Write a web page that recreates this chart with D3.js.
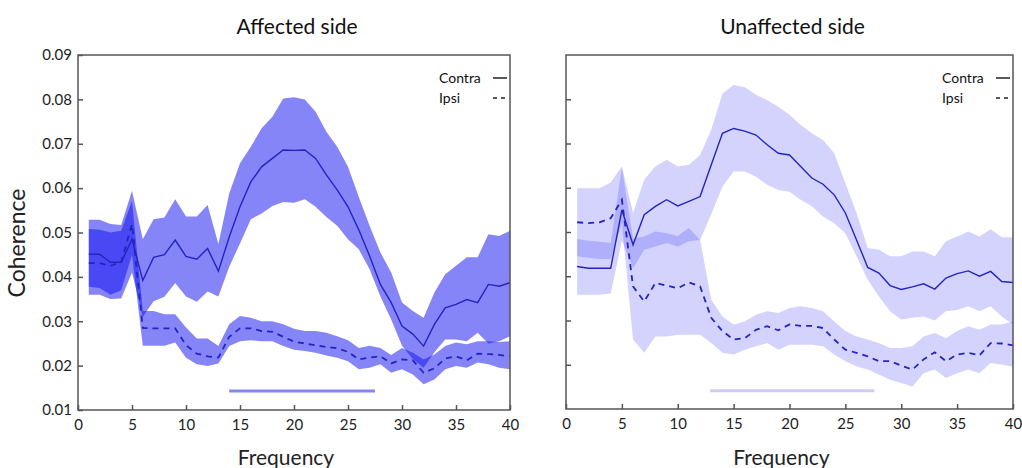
<!DOCTYPE html>
<meta charset="utf-8" />
<script src="https://d3js.org/d3.v7.min.js"></script>
<body style="margin:0;background:#fff">
<svg id="chart" width="1022" height="468" style="display:block"></svg>
<script>
/* DATA ------------------------------------------------------------------ */
const freq = d3.range(1, 41);

// affected side
const affContra   = [0.0451,0.0451,0.0433,0.0433,0.0485,0.0392,0.0444,0.045,0.0483,0.0446,0.044,0.0464,0.0413,0.049,0.0558,0.0614,0.0648,0.0667,0.0686,0.0685,0.0686,0.0667,0.063,0.0596,0.0558,0.0506,0.0447,0.0383,0.0342,0.0289,0.0271,0.0244,0.0293,0.033,0.0338,0.0349,0.0342,0.0383,0.0379,0.0387];
const affContraHi = [0.0529,0.0529,0.0519,0.0517,0.0594,0.0485,0.053,0.0534,0.0575,0.0536,0.0536,0.0562,0.0474,0.0588,0.0656,0.0693,0.0735,0.0761,0.0802,0.0805,0.08,0.0772,0.0727,0.0693,0.0648,0.058,0.0515,0.0455,0.041,0.0342,0.0323,0.0308,0.0365,0.0406,0.0425,0.0444,0.0444,0.0496,0.0492,0.0504];
const affContraLo = [0.036,0.036,0.035,0.0351,0.041,0.031,0.0345,0.0355,0.0386,0.0356,0.0344,0.0367,0.0356,0.0423,0.0475,0.053,0.0543,0.056,0.0569,0.0567,0.0575,0.0558,0.0535,0.0515,0.0485,0.0462,0.0417,0.0356,0.0304,0.0245,0.0215,0.0195,0.023,0.0259,0.0259,0.0255,0.0274,0.025,0.0255,0.0266];
const affIpsi     = [0.0431,0.0431,0.0425,0.0433,0.0519,0.0285,0.0284,0.0284,0.0284,0.0246,0.0227,0.0221,0.0218,0.0265,0.0284,0.0284,0.0278,0.0276,0.0265,0.0254,0.025,0.0246,0.0242,0.0239,0.0231,0.0214,0.0218,0.0221,0.0205,0.0214,0.0212,0.0184,0.0194,0.0216,0.0221,0.0212,0.0227,0.0226,0.0224,0.0221];
const affIpsiHi   = [0.0508,0.0506,0.05,0.0504,0.0571,0.0323,0.0323,0.0316,0.0316,0.0286,0.0261,0.0261,0.0244,0.0293,0.0312,0.0308,0.03,0.03,0.0293,0.0283,0.0278,0.0278,0.0274,0.0266,0.0257,0.024,0.0245,0.024,0.0224,0.024,0.0229,0.0214,0.0225,0.0244,0.0252,0.0248,0.0255,0.0255,0.0253,0.0255];
const affIpsiLo   = [0.0378,0.0375,0.036,0.037,0.045,0.0245,0.0245,0.0245,0.0252,0.0218,0.0203,0.0199,0.0205,0.0244,0.0255,0.0257,0.0255,0.0255,0.0244,0.0236,0.0233,0.0229,0.0223,0.0218,0.021,0.0192,0.0195,0.0203,0.0184,0.0192,0.018,0.0158,0.0169,0.0192,0.0199,0.0195,0.0207,0.0203,0.0195,0.0192];

// unaffected side
const unContra    = [0.0422,0.0418,0.0418,0.0418,0.055,0.0471,0.0539,0.0558,0.0573,0.0559,0.0569,0.058,0.0652,0.0723,0.0734,0.0728,0.0719,0.0697,0.0678,0.0674,0.0648,0.0622,0.0608,0.0584,0.0543,0.0482,0.042,0.0407,0.0379,0.037,0.0376,0.0383,0.0371,0.0396,0.0406,0.0412,0.04,0.0411,0.0388,0.0386];
const unContraHi  = [0.0599,0.0599,0.0599,0.0612,0.0648,0.0543,0.0618,0.0648,0.0663,0.0648,0.0652,0.0674,0.0731,0.0813,0.0832,0.0827,0.081,0.0798,0.0783,0.0765,0.0742,0.0723,0.0708,0.0678,0.061,0.0543,0.0464,0.046,0.0445,0.0445,0.0456,0.0456,0.0445,0.0479,0.049,0.0501,0.049,0.0506,0.0488,0.0488];
const unContraLo  = [0.0358,0.0358,0.0358,0.0361,0.048,0.0418,0.046,0.0467,0.0475,0.0467,0.0479,0.0482,0.054,0.0603,0.0637,0.0637,0.0625,0.0607,0.0595,0.0591,0.0573,0.0558,0.0535,0.052,0.0497,0.0445,0.0392,0.0354,0.0321,0.0302,0.0306,0.0309,0.03,0.0321,0.0324,0.0332,0.0321,0.0332,0.0309,0.0291];
const unIpsi      = [0.0522,0.052,0.0522,0.0531,0.0573,0.0377,0.0343,0.0385,0.0379,0.0373,0.0386,0.0377,0.0306,0.0276,0.0257,0.026,0.0279,0.0287,0.0278,0.0291,0.0288,0.0288,0.0283,0.0257,0.0234,0.0227,0.0219,0.0208,0.0208,0.0198,0.0189,0.0212,0.0228,0.0208,0.0223,0.0227,0.0221,0.0249,0.0248,0.0244];
const unIpsiHi    = [0.0484,0.048,0.0478,0.0475,0.0645,0.0485,0.049,0.0501,0.0497,0.0491,0.0509,0.0482,0.0347,0.0309,0.0291,0.0298,0.0313,0.0321,0.0317,0.0328,0.0332,0.0328,0.0321,0.0298,0.0276,0.0264,0.0257,0.0249,0.0238,0.0238,0.0242,0.0264,0.0272,0.026,0.0276,0.0287,0.0279,0.0291,0.0291,0.0298];
const unIpsiLo    = [0.0445,0.0442,0.0439,0.0439,0.052,0.0257,0.0227,0.0264,0.0264,0.0268,0.0268,0.0268,0.0249,0.0227,0.0223,0.0234,0.0242,0.0249,0.0234,0.0245,0.0245,0.0245,0.0242,0.0223,0.0208,0.0196,0.0189,0.0178,0.0166,0.0159,0.0151,0.0181,0.0189,0.017,0.0181,0.0189,0.0181,0.0204,0.02,0.0196];

const yTicks = [0.01,0.02,0.03,0.04,0.05,0.06,0.07,0.08,0.09];
const xTicks = [0,5,10,15,20,25,30,35,40];
const titles = ["Affected side","Unaffected side"];
const sigBars = [[14,27.5,0.0143],[12.9,27.6,0.0141]];
const legendLabels = ["Contra","Ipsi"];

/* PANELS ---------------------------------------------------------------- */
const panels = [
  {title:titles[0], x0:78, x1:510, y0:55, y1:410, opacity:0.5, bar:sigBars[0], barColor:"#8585f2", labels:true,
   cm:affContra, chi:affContraHi, clo:affContraLo, im:affIpsi, ihi:affIpsiHi, ilo:affIpsiLo},
  {title:titles[1], x0:566, x1:1013, y0:55, y1:409, opacity:0.18, bar:sigBars[1], barColor:"#cdcdf8", labels:false,
   cm:unContra, chi:unContraHi, clo:unContraLo, im:unIpsi, ihi:unIpsiHi, ilo:unIpsiLo}
];

const font = "Lato, 'Open Sans', sans-serif";
const lineCol = "#2424bf", bandCol = "rgb(12,12,242)", axisCol = "#555";
const svg = d3.select("#chart");

panels.forEach(p => {
  const x = d3.scaleLinear().domain([0,40]).range([p.x0,p.x1]);
  const y = d3.scaleLinear().domain([0.01,0.09]).range([p.y1,p.y0]);
  const g = svg.append("g");

  const band = (lo,hi) => d3.area().x((d,i)=>x(freq[i])).y0((d,i)=>y(lo[i])).y1((d,i)=>y(hi[i]))(freq);
  const line = arr => d3.line().x((d,i)=>x(freq[i])).y((d,i)=>y(arr[i]))(freq);

  g.append("path").attr("d",band(p.clo,p.chi)).attr("fill",bandCol).attr("fill-opacity",p.opacity);
  g.append("path").attr("d",band(p.ilo,p.ihi)).attr("fill",bandCol).attr("fill-opacity",p.opacity);

  g.append("path").attr("d",line(p.cm)).attr("fill","none").attr("stroke",lineCol).attr("stroke-width",1.4);
  g.append("path").attr("d",line(p.im)).attr("fill","none").attr("stroke",lineCol).attr("stroke-width",1.8)
    .attr("stroke-dasharray","6,5");

  // significance bar
  g.append("line").attr("x1",x(p.bar[0])).attr("x2",x(p.bar[1]))
    .attr("y1",y(p.bar[2])).attr("y2",y(p.bar[2]))
    .attr("stroke",p.barColor).attr("stroke-width",3);

  // frame
  g.append("rect").attr("x",p.x0).attr("y",p.y0).attr("width",p.x1-p.x0).attr("height",p.y1-p.y0)
    .attr("fill","none").attr("stroke",axisCol).attr("stroke-width",1.5);

  // axes: inward ticks
  const xa = g.append("g").attr("transform",`translate(0,${p.y1})`)
    .call(d3.axisBottom(x).tickValues(xTicks).tickSize(-5).tickPadding(9).tickFormat(d3.format("d")));
  const ya = g.append("g").attr("transform",`translate(${p.x0},0)`)
    .call(d3.axisLeft(y).tickValues(yTicks.slice(1,-1).concat(p.labels?[0.01,0.09]:[])).tickSize(-5).tickPadding(6)
      .tickFormat(p.labels?d3.format(".2f"):()=>""));
  [xa,ya].forEach(a=>{
    a.select(".domain").remove();
    a.selectAll("line").attr("stroke",axisCol).attr("stroke-width",1.5);
    a.selectAll("text").attr("font-family",font).attr("font-size",15).attr("fill","#222");
  });

  // titles
  g.append("text").attr("x",(p.x0+p.x1)/2 + 3).attr("y",34).attr("text-anchor","middle")
    .attr("font-family",font).attr("font-size",21).attr("fill","#111").text(p.title);
  g.append("text").attr("x",(p.x0+p.x1)/2 - 8).attr("y",465).attr("text-anchor","middle")
    .attr("font-family",font).attr("font-size",21).attr("fill","#222").text("Frequency");

  // legend
  const lx = p.x1 - 71, ly = 83;
  legendLabels.forEach((lab,i)=>{
    g.append("text").attr("x",lx).attr("y",ly+i*20).attr("font-family",font).attr("font-size",14)
      .attr("fill","#111").text(lab);
    g.append("line").attr("x1",p.x1-17).attr("x2",p.x1-3).attr("y1",ly-5+i*20).attr("y2",ly-5+i*20)
      .attr("stroke","#222").attr("stroke-width",1.5).attr("stroke-dasharray",i?"4,4":null);
  });
});

svg.append("text").attr("transform","translate(25,243) rotate(-90)").attr("text-anchor","middle")
  .attr("font-family",font).attr("font-size",23).attr("fill","#222").text("Coherence");
</script>
</body>
